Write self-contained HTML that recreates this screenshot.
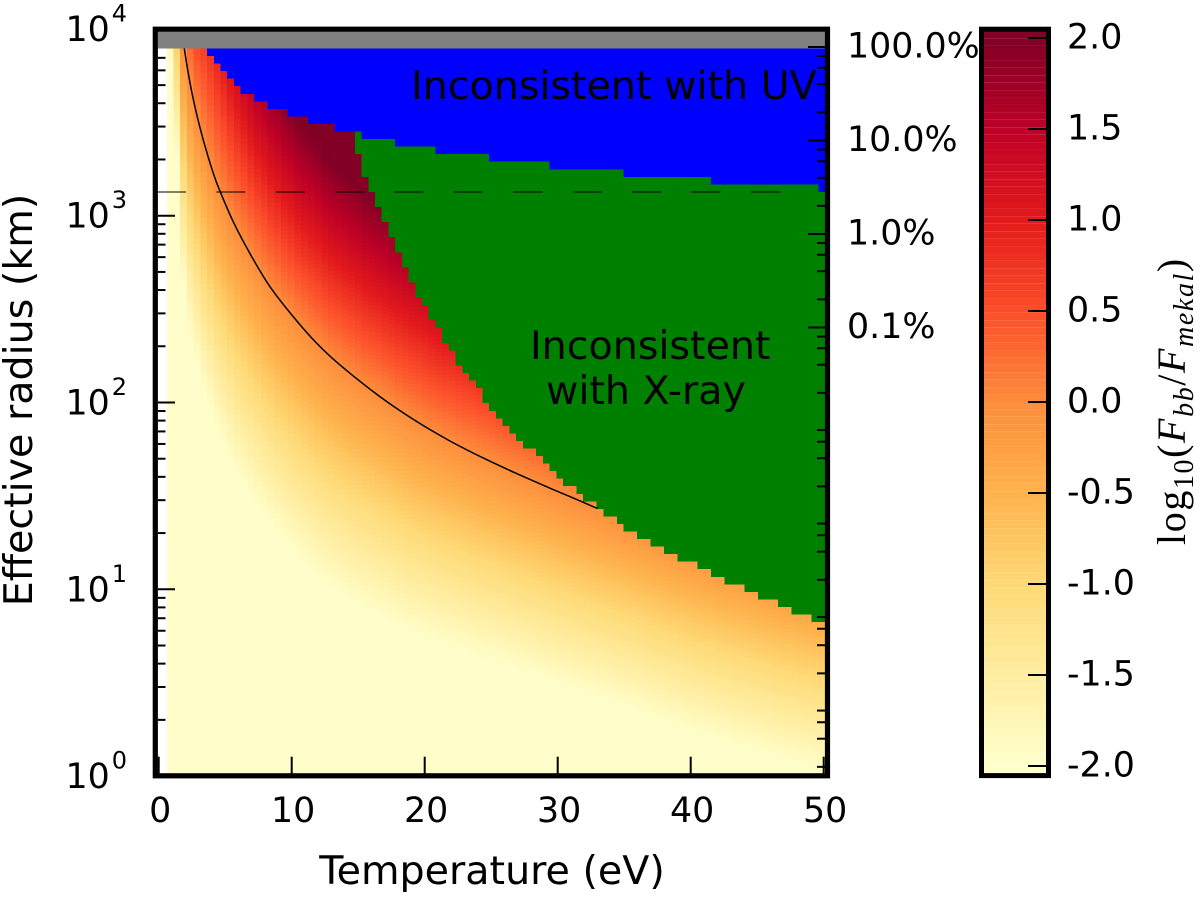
<!DOCTYPE html>
<html lang="en">
<head>
<meta charset="utf-8">
<title>Effective radius versus temperature</title>
<style>
html,body{margin:0;padding:0;background:#fff;}
svg{display:block;}
text{font-family:"DejaVu Sans","Liberation Sans",sans-serif;fill:#000;}
.tick{font-size:34.8px;}
.big{font-size:39.6px;}
.math{font-family:"Liberation Serif",serif;font-size:40px;letter-spacing:1.6px;}
.math .i{font-style:italic;}
.math tspan{font-family:"Liberation Serif",serif;}
</style>
</head>
<body>
<svg id="chart" xmlns="http://www.w3.org/2000/svg" width="1200" height="899" viewBox="0 0 1200 899">
  <defs>
    <clipPath id="plot-clip"><rect x="158" y="31.7" width="667" height="741.6"></rect></clipPath>
  </defs>
  <g id="plot" clip-path="url(#plot-clip)"></g>
  <g id="ticks"></g>
  <g id="spines" fill="none" stroke="#000" stroke-width="5.2">
    <rect x="155.3" y="29.2" width="672.2" height="746.6"></rect>
  </g>
  <g id="labels"></g>
  <g id="colorbar"></g>

  <text class="big" x="411" y="99">Inconsistent with UV</text>
  <text class="big" x="530" y="359">Inconsistent</text>
  <text class="big" x="546" y="404">with X-ray</text>
  <text class="big" x="492" y="884" text-anchor="middle">Temperature (eV)</text>
  <text class="big" transform="translate(32,400) rotate(-90)" text-anchor="middle">Effective radius (km)</text>
  <text class="math" transform="translate(1185,545) rotate(-90)">log<tspan dy="8" font-size="28">10</tspan><tspan dy="-8">(</tspan><tspan class="i">F</tspan><tspan class="i" dy="8" font-size="28">bb</tspan><tspan dy="-8">/</tspan><tspan class="i">F</tspan><tspan class="i" dy="8" font-size="28">mekal</tspan><tspan dy="-8">)</tspan></text>
</svg>
<script>
// ---- Data ----
// log10 of the radius (km) at which Fbb = Fmekal, one value per temperature column (null = blank column)
const unityLogRadius = [
  null,4.9,4.4,3.93,3.70,3.525,3.397,3.28,3.17,3.08,
  3.0,2.925,2.86,2.79,2.73,2.67,2.615,2.565,2.52,2.475,
  2.43,2.39,2.35,2.31,2.275,2.24,2.21,2.18,2.15,2.12,
  2.095,2.07,2.045,2.02,1.99,1.965,1.94,1.915,1.895,1.87,
  1.85,1.83,1.81,1.795,1.775,1.755,1.74,1.72,1.705,1.69,
  1.67,1.655,1.64,1.625,1.61,1.595,1.58,1.56,1.545,1.53,
  1.515,1.50,1.485,1.47,1.455,1.44,1.425,1.41,1.395,1.38,
  1.365,1.35,1.335,1.32,1.305,1.29,1.275,1.265,1.25,1.235,
  1.225,1.21,1.20,1.185,1.175,1.16,1.15,1.14,1.125,1.115,
  1.105,1.09,1.08,1.07,1.06,1.05,1.04,1.03,1.02,1.01
];
// Change of log10(Fbb/Fmekal) per decade of radius above the unity radius, per column
const slopeAbove = [
  2,1.8,1.8,1.5,1.5,1.4,1.3,1.3,1.35,1.4,
  1.5,1.55,1.6,1.65,1.7,1.7,1.75,1.75,1.8,1.8,
  1.85,1.85,1.85,1.85,1.9,1.9,1.9,1.9,1.9,1.9,
  1.95,1.95,1.95,1.95,1.95,1.95,1.95,1.95,1.95,1.95,
  2,2,2,2,2,2,2,2,2,2,
  2,2,2,2,2,2,2,2,2,2,
  2,2,2,2,2,2,2,2,2,2,
  2,2,2,2,2,2,2,2,2,2,
  2,2,2,2,2,2,2,2,2,2,
  2,2,2,2,2,2,2,2,2,2
];
// Change of log10(Fbb/Fmekal) per decade of radius below the unity radius, per column
const slopeBelow = [
  2,1.8,1.8,1.5,1.45,1.48,1.47,1.48,1.49,1.5,
  1.5,1.5,1.5,1.52,1.53,1.54,1.55,1.55,1.56,1.56,
  1.57,1.57,1.58,1.58,1.59,1.6,1.6,1.61,1.62,1.63,
  1.64,1.65,1.66,1.67,1.68,1.69,1.7,1.71,1.72,1.74,
  1.75,1.76,1.77,1.78,1.79,1.8,1.8,1.81,1.82,1.83,
  1.84,1.84,1.85,1.85,1.86,1.86,1.87,1.87,1.88,1.88,
  1.89,1.89,1.9,1.9,1.91,1.91,1.92,1.92,1.93,1.93,
  1.94,1.94,1.94,1.94,1.94,1.95,1.95,1.95,1.95,1.95,
  1.96,1.96,1.96,1.96,1.97,1.97,1.97,1.97,1.98,1.98,
  1.98,1.98,1.99,1.99,1.99,1.99,2,2,2,2
];
// Grid rows below the top of the model grid where the UV exclusion ends, per column
const uvLimitRows = [
  0,0,0,0,0,0,0,1,2,3,
  4,5,6,6,7,7,8,8,8,9,
  9,9,10,10,10,10,11,11,11,11,
  12,12,12,12,12,13,13,13,13,13,
  13,14,14,14,14,14,14,14,14,15,
  15,15,15,15,15,15,15,15,16,16,
  16,16,16,16,16,16,16,16,16,17,
  17,17,17,17,17,17,17,17,17,17,
  17,17,18,18,18,18,18,18,18,18,
  18,18,18,18,18,18,18,18,19,19
];
// Grid rows below the top of the model grid where the X-ray exclusion ends, per column
const xrayLimitRows = [
  0,0,0,0,0,0,0,1,2,3,
  4,5,6,6,7,7,8,8,8,9,
  9,9,10,10,10,10,11,11,11,14,
  17,19,21,23,25,27,29,31,33,34,
  36,37,39,40,42,43,44,45,47,48,
  49,50,51,52,53,53,54,55,56,57,
  58,58,59,60,60,61,62,62,63,64,
  64,65,65,66,66,67,67,68,68,68,
  69,69,70,70,71,71,71,72,72,73,
  73,73,74,74,75,75,75,76,76,76
];
// Contour where the two fluxes are equal
const curveTemps = [1.85,1.925,2.226,2.677,3.353,4.105,4.609,5.662,6.992,8.368,10.12,11.88,13.63,16.64,19.4,21.9,24.4,26.9,29.4,31,32.65,33];
const curveLogRadius = [3.94,3.896,3.762,3.598,3.405,3.227,3.131,2.959,2.781,2.62,2.459,2.317,2.201,2.031,1.898,1.794,1.703,1.62,1.542,1.494,1.443,1.433];
const dashedRadiusKm = 1340;
const dashedEndTemp = 48;
// Axis ticks
const xTicks = [0,10,20,30,40,50];
const yMajorExponents = [0,1,2,3,4];
const yMinorMultipliers = [2,3,4,5,6,7,8,9];
const percentMajor = [100,10,1,0.1];
const percentLabels = ["100.0%","10.0%","1.0%","0.1%"];
const percentMinor = [80,60,40,20,8,6,4,2,0.8,0.6,0.4,0.2,0.08,0.06,0.04,0.02,0.008,0.006,0.004,0.002,0.0008,0.0006,0.0004,0.0002,0.00008,0.00006,0.00004,0.00002,0.000008,0.000006,0.000004,0.000002];
const colorbarTicks = [2,1.5,1,0.5,0,-0.5,-1,-1.5,-2];
const colorbarLabels = ["2.0","1.5","1.0","0.5","0.0","-0.5","-1.0","-1.5","-2.0"];
const paletteStops = ["#ffffcc","#ffeda0","#fed976","#feb24c","#fd8d3c","#fc4e2a","#e31a1c","#bd0026","#800026"];

// ---- Axis functions ----
const xScale = t => 158.7 + 13.3 * t;
const yScale = lr => 776.1 - 186.8 * lr;
const percentScale = p => 47 + 93.5 * (2 - Math.log10(p));
const barScale = v => 402 - 182 * v;
const rowLogRadius = k => 3.895 - 0.0404 * k;
const colEdge = i => xScale((i + 0.2) * 50 / 99);

const NS = "http://www.w3.org/2000/svg";
function mk(parent, tag, attrs, text) {
  const n = document.createElementNS(NS, tag);
  for (const k in attrs) n.setAttribute(k, attrs[k]);
  if (text !== undefined) n.textContent = text;
  parent.appendChild(n);
  return n;
}
function hex(c){return [parseInt(c.slice(1,3),16),parseInt(c.slice(3,5),16),parseInt(c.slice(5,7),16)];}
function colorOf(v) {
  const p = Math.max(0, Math.min(1, (v + 2) / 4)) * (paletteStops.length - 1);
  const a = Math.min(paletteStops.length - 2, Math.floor(p));
  const f = p - a;
  const A = hex(paletteStops[a]), B = hex(paletteStops[a + 1]);
  return "rgb(" + A.map((q, j) => Math.round(q + (B[j] - q) * f)).join(",") + ")";
}

const plot = document.getElementById("plot");
const ticks = document.getElementById("ticks");
const labels = document.getElementById("labels");
const bar = document.getElementById("colorbar");

// ---- Heat cells ----
const LEVELS = 100, DV = 0.04;
function levelRadius(r0, v, i) {
  return r0 + v / (v < 0 ? slopeBelow[i] : slopeAbove[i]);
}
unityLogRadius.forEach((r0, i) => {
  if (r0 === null) return;
  const x0 = colEdge(i), x1 = colEdge(i + 1);
  const top = rowLogRadius(xrayLimitRows[i]);
  for (let l = 0; l < LEVELS; l++) {
    const vLo = -2 + DV * l;
    const lo = l === 0 ? -0.05 : levelRadius(r0, vLo, i);
    const hi = l === LEVELS - 1 ? top : Math.min(top, levelRadius(r0, vLo + DV, i));
    const low = Math.max(lo, -0.05);
    if (hi <= low) continue;
    const cell = mk(plot, "rect", {x: x0, y: yScale(hi), width: x1 - x0, height: yScale(low) - yScale(hi), fill: colorOf(vLo + DV / 2), "shape-rendering": "crispEdges"});
    
    
  }
});

// ---- Exclusion regions ----
xrayLimitRows.forEach((k, i) => {
  const u = uvLimitRows[i];
  const x0 = colEdge(i), x1 = colEdge(i + 1);
  if (k > u) {
    const g = mk(plot, "rect", {x: x0, y: yScale(rowLogRadius(u)), width: x1 - x0, height: yScale(rowLogRadius(k)) - yScale(rowLogRadius(u)), fill: "#008000", "shape-rendering": "crispEdges"});
    
    
  }
  if (u > 0) {
    const b = mk(plot, "rect", {x: x0, y: yScale(rowLogRadius(0)), width: x1 - x0, height: yScale(rowLogRadius(u)) - yScale(rowLogRadius(0)), fill: "#0000ff", "shape-rendering": "crispEdges"});
    
    
  }
});

// ---- Curve (smooth path through the read points) and dashed reference line ----
const curvePts = curveTemps.map((t, i) => [xScale(t), yScale(curveLogRadius[i])]);
let curveD = "M" + curvePts[0][0].toFixed(2) + " " + curvePts[0][1].toFixed(2);
for (let i = 0; i < curvePts.length - 1; i++) {
  const p0 = curvePts[Math.max(0, i - 1)], p1 = curvePts[i], p2 = curvePts[i + 1], p3 = curvePts[Math.min(curvePts.length - 1, i + 2)];
  const c1x = p1[0] + (p2[0] - p0[0]) / 6, c1y = p1[1] + (p2[1] - p0[1]) / 6;
  const c2x = p2[0] - (p3[0] - p1[0]) / 6, c2y = p2[1] - (p3[1] - p1[1]) / 6;
  curveD += " C" + c1x.toFixed(2) + " " + c1y.toFixed(2) + " " + c2x.toFixed(2) + " " + c2y.toFixed(2) + " " + p2[0].toFixed(2) + " " + p2[1].toFixed(2);
}
const curve = mk(plot, "path", {d: curveD, fill: "none", stroke: "#000", "stroke-width": 1.5, "stroke-linejoin": "round"});



const dashY = yScale(Math.log10(dashedRadiusKm));
const dash = mk(plot, "line", {x1: 157, x2: xScale(dashedEndTemp), y1: dashY, y2: dashY, stroke: "#000", "stroke-width": 1, "stroke-dasharray": "29 30.4"});



// ---- Ticks ----
yMajorExponents.forEach(e => {
  const y = yScale(e);
  if (e > 0 && e < 4) {
    const t = mk(ticks, "line", {x1: 158, x2: 175, y1: y, y2: y, stroke: "#000", "stroke-width": 2});
    
    
  }
  const lab = mk(labels, "text", {class: "tick", x: 65.5, y: y + 12});
  
  
  lab.appendChild(document.createTextNode("10"));
  mk(lab, "tspan", {dy: -19.5, dx: 2, style: "font-size:24px"}, String(e));
  if (e < 4) {
    yMinorMultipliers.forEach(m => {
      const ly = e + Math.log10(m);
      if (yScale(ly) < 48) return;
      const yy = yScale(ly);
      const mt = mk(ticks, "line", {x1: 158, x2: 165.5, y1: yy, y2: yy, stroke: "#000", "stroke-width": 2});
      
      
    });
  }
});
xTicks.forEach(v => {
  const x = xScale(v);
  const t = mk(ticks, "line", {x1: x, x2: x, y1: 756.7, y2: 774, stroke: "#000", "stroke-width": 2});
  
  
  const lab = mk(labels, "text", {class: "tick", x: x + 1.5, y: 822, "text-anchor": "middle"}, String(v));
  
  
});
percentMajor.forEach((p, i) => {
  const y = percentScale(p);
  const t = mk(ticks, "line", {x1: 808, x2: 825, y1: y, y2: y, stroke: "#000", "stroke-width": 2});
  
  
  const lab = mk(labels, "text", {class: "tick", x: 847, y: y + 10.5}, percentLabels[i]);
  
  
});
percentMinor.forEach(p => {
  const y = percentScale(p);
  const t = mk(ticks, "line", {x1: 817, x2: 825, y1: y, y2: y, stroke: "#000", "stroke-width": 2});
  
  
});

// ---- Colorbar ----
for (let l = 0; l < LEVELS; l++) {
  const vLo = -2.04 + (4.08 / LEVELS) * l;
  const vHi = vLo + 4.08 / LEVELS;
  const r = mk(bar, "rect", {x: 984, width: 62, y: barScale(vHi), height: barScale(vLo) - barScale(vHi), fill: colorOf((vLo + vHi) / 2)});
  
  
}
colorbarTicks.forEach((v, i) => {
  const y = barScale(v);
  const t = mk(bar, "line", {x1: 1028, x2: 1046, y1: y, y2: y, stroke: "#000", "stroke-width": 2});
  
  
  const lab = mk(bar, "text", {class: "tick", x: 1067, y: y + 10.5}, colorbarLabels[i]);
  
  
});
const frame = mk(bar, "rect", {x: 981.5, y: 29.2, width: 67, height: 746.4, fill: "none", stroke: "#000", "stroke-width": 5});



// ---- Grey band at the top of the plot ----
const grey = mk(plot, "rect", {x: 157, y: 30, width: 670, height: yScale(rowLogRadius(0)) - 30, fill: "#808080", "shape-rendering": "crispEdges"});


</script>
</body>
</html>
